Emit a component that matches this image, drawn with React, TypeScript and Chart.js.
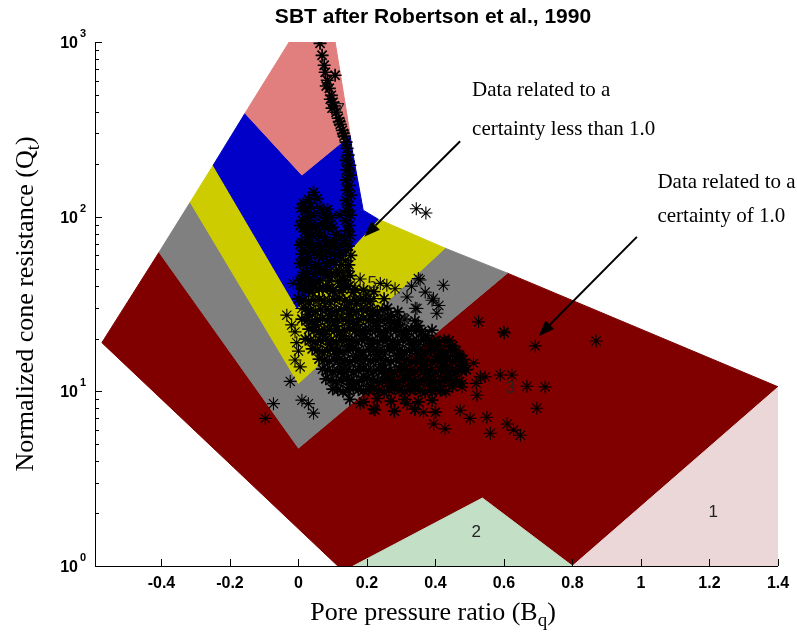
import { useEffect, useRef } from 'react';
import { Chart, registerables } from 'chart.js';
Chart.register(...registerables);

type P = [number, number];

// axis ranges
const xRange: P = [-0.594, 1.4];
const qRange: P = [1, 1000];

// tick values / labels
const xTickValues = [-0.4, -0.2, 0, 0.2, 0.4, 0.6, 0.8, 1, 1.2, 1.4];
const xTickLabels = ['-0.4', '-0.2', '0', '0.2', '0.4', '0.6', '0.8', '1', '1.2', '1.4'];
const yMajorTicks = [1, 10, 100, 1000];
const yTickExponents = ['0', '1', '2', '3'];
const yMinorTicks = [2, 3, 4, 5, 6, 7, 8, 9, 20, 30, 40, 50, 60, 70, 80, 90, 200, 300, 400, 500, 600, 700, 800, 900];

// SBT zones (Bq, Qt)
const zone7: P[] = [[-0.027, 1000], [0.107, 1000], [0.122, 662], [0.136, 446], [0.151, 292], [0.010, 173], [-0.156, 391]];
const zone6: P[] = [[-0.156, 391], [0.010, 173], [0.151, 292], [0.157, 240], [0.189, 109], [0.233, 96.7], [-0.004, 29.9], [-0.249, 197]];
const zone5: P[] = [[-0.316, 121], [-0.249, 197], [-0.004, 29.9], [0.233, 96.7], [0.428, 66.0], [0.0, 11.1]];
const zone4: P[] = [[-0.407, 62.6], [-0.316, 121], [0.0, 11.1], [0.428, 66.0], [0.610, 47.5], [0.0, 4.73]];
const zone3: P[] = [[-0.574, 19.0], [-0.407, 62.6], [0.0, 4.73], [0.610, 47.5], [1.401, 10.6], [0.80, 1], [0.537, 2.45], [0.16, 1], [0.122, 0.97]];
const zone2: P[] = [[0.16, 1], [0.537, 2.45], [0.80, 1]];
const zone1: P[] = [[0.80, 1], [1.401, 10.6], [1.401, 1]];
const zones: P[][] = [zone3, zone1, zone2, zone4, zone5, zone6, zone7];
const zoneColors = ['#800000', '#ebd7d7', '#c3dfc6', '#808080', '#cccc00', '#0000c8', '#e17f7f'];

// zone number labels
const zoneLabelText = ['1', '2', '3', '4', '5', '7'];
const zoneLabelPos: P[] = [[1.211, 2.04], [0.519, 1.56], [0.618, 10.4], [0.312, 25.6], [0.215, 41.6], [0.122, 406]];

// CPT data (Bq, Qt)
const streakPts: P[] = [
  [0.063, 983], [0.069, 839], [0.075, 736], [0.078, 671], [0.107, 645], [0.084, 604], [0.090, 543], [0.096, 495],
  [0.101, 452], [0.098, 418], [0.110, 396], [0.116, 366], [0.122, 338], [0.128, 312], [0.133, 289], [0.139, 267],
  [0.142, 246], [0.081, 560], [0.093, 470], [0.105, 430], [0.119, 350], [0.131, 300],
];
const columnPts: P[] = [
  [0.145, 225], [0.138, 210], [0.150, 197], [0.141, 185], [0.152, 173], [0.139, 162], [0.148, 151], [0.142, 142],
  [0.153, 133], [0.138, 124], [0.147, 116], [0.141, 108], [0.152, 102], [0.137, 95], [0.148, 89], [0.143, 83],
  [0.151, 78], [0.136, 73], [0.146, 68], [0.140, 64], [0.153, 60], [0.137, 56], [0.147, 53], [0.142, 49],
  [0.151, 46], [0.136, 43], [0.146, 40],
];
const wPts: P[] = [
  [0.015, 119], [0.044, 138], [0.020, 108], [0.030, 100], [0.012, 95], [0.035, 88], [0.018, 82], [0.028, 76],
  [0.010, 71], [0.040, 67], [0.022, 63], [0.032, 58], [0.014, 54], [0.038, 51], [0.025, 47], [0.010, 44],
  [0.035, 41], [0.020, 38], [0.073, 104], [0.062, 112], [0.080, 98], [0.068, 92], [0.085, 86], [0.060, 81],
  [0.077, 76], [0.090, 71], [0.065, 67], [0.082, 63], [0.070, 59], [0.092, 55], [0.058, 52], [0.076, 49],
  [0.088, 46], [0.064, 43], [0.080, 40], [0.100, 38], [0.110, 48], [0.115, 60], [0.105, 70],
];
const wPts2: P[] = [
  [0.030, 125], [0.055, 127], [0.008, 112], [0.035, 114], [0.085, 110], [0.045, 101], [0.095, 99], [0.120, 102],
  [0.005, 89], [0.025, 87], [0.050, 88], [0.075, 89], [0.100, 87], [0.040, 78], [0.060, 77], [0.110, 79], [0.125, 77],
  [0.005, 69], [0.030, 70], [0.055, 68], [0.080, 69], [0.100, 70], [0.125, 68],
  [0.010, 61], [0.045, 62], [0.060, 60], [0.095, 61], [0.120, 62],
  [0.005, 54], [0.025, 55], [0.050, 53], [0.080, 54], [0.105, 55], [0.125, 53],
  [0.015, 48], [0.045, 47], [0.065, 48], [0.095, 47], [0.120, 48],
  [0.005, 43], [0.030, 43.5], [0.050, 42.5], [0.090, 43], [0.115, 42.5], [0.130, 43.5],
  [0.010, 39], [0.040, 39.5], [0.060, 38.5], [0.085, 39], [0.125, 39.5], [0.165, 38.5],
];
const leftPts: P[] = [
  [-0.015, 41.5], [0.010, 29.8], [-0.034, 27.3], [-0.010, 21.9], [-0.024, 11.4], [-0.073, 8.5], [-0.097, 7.0],
  [0.010, 8.9], [0.044, 7.5], [0.029, 8.5], [-0.010, 15.1], [0.005, 13.8], [-0.020, 24], [-0.005, 19], [0.000, 17],
];
const midPts: P[] = [
  [0.258, 40.5], [0.282, 38.7], [0.239, 41.5], [0.170, 31.8], [0.131, 46.2], [0.151, 40.5], [0.20, 36], [0.22, 34],
  [0.18, 44], [0.12, 37], [0.350, 44.2], [0.423, 40.5], [0.390, 33.2], [0.404, 28.0], [0.346, 29.8], [0.317, 34.7],
  [0.37, 37], [0.33, 40], [0.41, 31], [0.344, 111], [0.372, 105],
];
const corePts: P[] = [
  [0.01, 38.5], [0.04, 37.0], [0.07, 38.8], [0.10, 37.4], [0.13, 38.2], [0.16, 36.9], [0.19, 38.0], [0.22, 37.2],
  [0.00, 33.8], [0.03, 32.9], [0.06, 33.6], [0.09, 33.0], [0.12, 34.0], [0.15, 32.7], [0.18, 33.5], [0.21, 32.8], [0.25, 33.9],
  [0.02, 29.6], [0.05, 28.8], [0.08, 29.4], [0.11, 28.9], [0.14, 29.8], [0.17, 28.6], [0.20, 29.3], [0.23, 28.7], [0.26, 29.9], [0.29, 28.5],
  [0.03, 27.5], [0.09, 27.1], [0.15, 27.6], [0.21, 27.0], [0.27, 27.4],
  [0.01, 25.9], [0.04, 25.2], [0.07, 26.0], [0.10, 25.4], [0.13, 25.8], [0.16, 25.1], [0.19, 26.1], [0.22, 25.3], [0.25, 25.7], [0.28, 25.0], [0.31, 25.9], [0.34, 25.3],
  [0.05, 24.1], [0.11, 23.7], [0.17, 24.2], [0.23, 23.6], [0.29, 24.0], [0.35, 23.8],
  [0.03, 22.7], [0.06, 22.1], [0.09, 22.6], [0.12, 22.0], [0.15, 22.8], [0.18, 22.2], [0.21, 22.5], [0.24, 21.9], [0.27, 22.7], [0.30, 22.1], [0.33, 22.6], [0.36, 22.0], [0.39, 22.4],
  [0.07, 21.2], [0.13, 20.8], [0.19, 21.3], [0.25, 20.7], [0.31, 21.1], [0.37, 20.9],
  [0.02, 19.9], [0.05, 19.3], [0.08, 19.8], [0.11, 19.2], [0.14, 19.7], [0.17, 19.4], [0.20, 20.0], [0.23, 19.3], [0.26, 19.8], [0.29, 19.2], [0.32, 19.9], [0.35, 19.4], [0.38, 19.7], [0.41, 19.1], [0.44, 19.5],
  [0.09, 18.6], [0.15, 18.2], [0.21, 18.7], [0.27, 18.1], [0.33, 18.5], [0.39, 18.3], [0.45, 18.2],
  [0.04, 17.5], [0.07, 16.9], [0.10, 17.4], [0.13, 17.0], [0.16, 17.6], [0.19, 16.8], [0.22, 17.3], [0.25, 17.0], [0.28, 17.5], [0.31, 16.9], [0.34, 17.4], [0.37, 17.0], [0.40, 17.3], [0.43, 16.8], [0.46, 17.1],
  [0.11, 16.3], [0.17, 15.9], [0.23, 16.2], [0.29, 16.0], [0.35, 16.4], [0.41, 15.9], [0.47, 16.1],
  [0.06, 15.3], [0.09, 14.9], [0.12, 15.4], [0.15, 14.8], [0.18, 15.2], [0.21, 15.0], [0.24, 15.4], [0.27, 14.8], [0.30, 15.3], [0.33, 14.9], [0.36, 15.2], [0.39, 14.8], [0.42, 15.1], [0.45, 14.9], [0.48, 15.2],
  [0.12, 14.3], [0.18, 13.9], [0.24, 14.2], [0.30, 14.0], [0.36, 14.3], [0.42, 13.9], [0.48, 14.1],
  [0.07, 13.4], [0.10, 13.0], [0.13, 13.3], [0.16, 12.9], [0.19, 13.4], [0.22, 13.1], [0.25, 13.5], [0.28, 12.9], [0.31, 13.3], [0.34, 13.0], [0.37, 13.4], [0.40, 12.9], [0.43, 13.2], [0.46, 13.0], [0.49, 13.3],
  [0.13, 12.5], [0.19, 12.2], [0.25, 12.6], [0.31, 12.3], [0.37, 12.5], [0.43, 12.2],
  [0.08, 11.8], [0.11, 11.4], [0.14, 11.7], [0.17, 11.3], [0.20, 11.8], [0.23, 11.5], [0.26, 11.7], [0.29, 11.3], [0.32, 11.8], [0.35, 11.4], [0.38, 11.6], [0.41, 11.3], [0.44, 11.7], [0.47, 11.4],
  [0.15, 11.0], [0.21, 10.7], [0.27, 11.1], [0.33, 10.8], [0.39, 11.0], [0.45, 10.7],
  [0.10, 10.3], [0.13, 10.0], [0.16, 10.4], [0.19, 10.1], [0.22, 10.3], [0.25, 9.9], [0.28, 10.4], [0.31, 10.0], [0.34, 10.3], [0.37, 9.9], [0.40, 10.2], [0.43, 10.0],
  [0.15, 9.0], [0.19, 8.7], [0.23, 9.1], [0.27, 8.8], [0.31, 9.0], [0.35, 8.7], [0.39, 8.9],
  [0.22, 7.9], [0.28, 7.7], [0.34, 7.9], [0.40, 7.6],
];
const corePts2: P[] = [
  [0.015, 33.2], [0.045, 33.4], [0.075, 33.1], [0.105, 33.5], [0.135, 33.0], [0.165, 33.4], [0.195, 33.2],
  [0.035, 29.1], [0.065, 29.5], [0.095, 29.0], [0.125, 29.4], [0.155, 29.1], [0.185, 29.6], [0.215, 29.0], [0.245, 29.3],
  [0.025, 25.5], [0.055, 25.8], [0.085, 25.4], [0.115, 25.7], [0.145, 25.3], [0.175, 25.9], [0.205, 25.5], [0.235, 25.8], [0.265, 25.4], [0.295, 25.6],
  [0.045, 22.3], [0.075, 22.6], [0.105, 22.2], [0.135, 22.5], [0.165, 22.1], [0.195, 22.6], [0.225, 22.3], [0.255, 22.5], [0.285, 22.2], [0.315, 22.4], [0.345, 22.3],
  [0.035, 19.6], [0.065, 19.5], [0.095, 19.7], [0.125, 19.4], [0.155, 19.6], [0.185, 19.8], [0.215, 19.5], [0.245, 19.6], [0.275, 19.4], [0.305, 19.7], [0.335, 19.5], [0.365, 19.6], [0.395, 19.4], [0.425, 19.6],
  [0.055, 17.2], [0.085, 17.1], [0.115, 17.3], [0.145, 17.1], [0.175, 17.2], [0.205, 17.4], [0.235, 17.1], [0.265, 17.3], [0.295, 17.2], [0.325, 17.1], [0.355, 17.3], [0.385, 17.2], [0.415, 17.0], [0.445, 17.2],
  [0.075, 15.1], [0.105, 15.2], [0.135, 15.0], [0.165, 15.1], [0.195, 15.3], [0.225, 15.1], [0.255, 15.0], [0.285, 15.2], [0.315, 15.1], [0.345, 15.0], [0.375, 15.2], [0.405, 15.0], [0.435, 15.1], [0.465, 15.0],
  [0.085, 13.2], [0.115, 13.1], [0.145, 13.3], [0.175, 13.1], [0.205, 13.2], [0.235, 13.3], [0.265, 13.1], [0.295, 13.2], [0.325, 13.1], [0.355, 13.3], [0.385, 13.1], [0.415, 13.2], [0.445, 13.1], [0.475, 13.2],
  [0.095, 11.6], [0.125, 11.5], [0.155, 11.6], [0.185, 11.5], [0.215, 11.7], [0.245, 11.5], [0.275, 11.6], [0.305, 11.5], [0.335, 11.6], [0.365, 11.5], [0.395, 11.6], [0.425, 11.5], [0.455, 11.6],
  [0.115, 10.2], [0.145, 10.1], [0.175, 10.2], [0.205, 10.2], [0.235, 10.1], [0.265, 10.2], [0.295, 10.1], [0.325, 10.2], [0.355, 10.1], [0.385, 10.2], [0.415, 10.1],
];
const rightPts: P[] = [
  [0.691, 18.2], [0.869, 19.4], [0.667, 10.7], [0.720, 10.6], [0.526, 25.0], [0.601, 21.6], [0.696, 8.0], [0.609, 6.5],
  [0.560, 5.75], [0.628, 6.0], [0.648, 5.6], [0.589, 12.4], [0.623, 12.4], [0.545, 12.1], [0.519, 11.1], [0.477, 11.1],
  [0.550, 7.1], [0.501, 7.0], [0.472, 7.8], [0.428, 6.1], [0.395, 6.5], [0.365, 7.6], [0.317, 8.5], [0.224, 7.8],
  [0.180, 8.5], [0.477, 10.6], [0.521, 9.5], [0.531, 12.1], [0.477, 13.5], [0.472, 15.7], [0.511, 14.5], [0.599, 21.9],
  [0.355, 43.4], [0.394, 34.1], [0.341, 29.9],
];

// annotations (Bq, Qt)
const annotationLines = [
  ['Data related to a', 'certainty less than 1.0'],
  ['Data related to a', 'certainty of 1.0'],
];
const annotationAnchors: P[][] = [
  [[0.507, 490], [0.507, 293]],
  [[1.048, 145], [1.048, 93]],
];
const arrowStarts: P[] = [[0.472, 270], [0.988, 76.6]];
const arrowTips: P[] = [[0.192, 76.8], [0.701, 20.7]];

const titleText = 'SBT after Robertson et al., 1990';

const SANS = '"Liberation Sans", Arial, sans-serif';
const SERIF = '"Liberation Serif", "Times New Roman", serif';

const sbtPlugin = {
  id: 'sbt',
  beforeDatasetsDraw(chart: any) {
    const { ctx, chartArea, scales } = chart;
    const X = (v: number) => scales.x.getPixelForValue(v);
    const Y = (v: number) => scales.y.getPixelForValue(v);
    ctx.save();
    ctx.beginPath();
    ctx.rect(chartArea.left, chartArea.top, chartArea.right - chartArea.left, chartArea.bottom - chartArea.top);
    ctx.clip();
    zones.forEach((poly, i) => {
      ctx.beginPath();
      poly.forEach((p, j) => {
        const px = X(p[0]);
        const py = Y(p[1]);
        if (j === 0) ctx.moveTo(px, py);
        else ctx.lineTo(px, py);
      });
      ctx.closePath();
      ctx.fillStyle = zoneColors[i];
      ctx.strokeStyle = zoneColors[i];
      ctx.lineWidth = 1;
      ctx.fill();
      ctx.stroke();
    });
    ctx.restore();
  },
  afterDatasetsDraw(chart: any) {
    const { ctx, chartArea, scales } = chart;
    const X = (v: number) => scales.x.getPixelForValue(v);
    const Y = (v: number) => scales.y.getPixelForValue(v);
    ctx.save();
    // zone labels
    ctx.font = `17px ${SANS}`;
    ctx.fillStyle = '#222';
    ctx.textAlign = 'center';
    ctx.textBaseline = 'middle';
    zoneLabelText.forEach((t, i) => {
      ctx.fillText(t, X(zoneLabelPos[i][0]), Y(zoneLabelPos[i][1]));
    });

    // axes lines
    ctx.strokeStyle = '#000';
    ctx.lineWidth = 1;
    ctx.beginPath();
    ctx.moveTo(chartArea.left + 0.5, chartArea.top);
    ctx.lineTo(chartArea.left + 0.5, chartArea.bottom + 0.5);
    ctx.lineTo(chartArea.right, chartArea.bottom + 0.5);
    ctx.stroke();
    // y ticks (inward)
    ctx.beginPath();
    yMajorTicks.forEach((v) => {
      const py = Math.round(Y(v)) + 0.5;
      ctx.moveTo(chartArea.left, py);
      ctx.lineTo(chartArea.left + 7, py);
    });
    yMinorTicks.forEach((v) => {
      const py = Math.round(Y(v)) + 0.5;
      ctx.moveTo(chartArea.left, py);
      ctx.lineTo(chartArea.left + 4, py);
    });
    // x ticks (inward)
    xTickValues.forEach((v) => {
      const px = Math.round(X(v)) + 0.5;
      ctx.moveTo(px, chartArea.bottom);
      ctx.lineTo(px, chartArea.bottom - 7);
    });
    ctx.stroke();

    // x tick labels
    ctx.fillStyle = '#000';
    ctx.font = `bold 16px ${SANS}`;
    ctx.textAlign = 'center';
    ctx.textBaseline = 'alphabetic';
    xTickValues.forEach((v, i) => {
      ctx.fillText(xTickLabels[i], X(v), chartArea.bottom + 22);
    });
    // y tick labels 10^n
    yMajorTicks.forEach((v, i) => {
      const py = Y(v);
      ctx.font = `bold 16px ${SANS}`;
      ctx.textAlign = 'right';
      ctx.fillText('10', chartArea.left - 17, py + 6);
      ctx.font = `bold 11px ${SANS}`;
      ctx.textAlign = 'left';
      ctx.fillText(yTickExponents[i], chartArea.left - 15, py - 5);
    });

    // title
    ctx.font = `bold 21px ${SANS}`;
    ctx.textAlign = 'center';
    ctx.fillText(titleText, 433, 23);

    // axis titles with subscript
    const drawSubTitle = (main: string, sub: string, cx: number, cy: number) => {
      ctx.font = `26px ${SERIF}`;
      const w1 = ctx.measureText(main).width;
      const w3 = ctx.measureText(')').width;
      ctx.font = `19px ${SERIF}`;
      const w2 = ctx.measureText(sub).width;
      const total = w1 + w2 + w3;
      const x0 = cx - total / 2;
      ctx.textAlign = 'left';
      ctx.font = `26px ${SERIF}`;
      ctx.fillText(main, x0, cy);
      ctx.font = `19px ${SERIF}`;
      ctx.fillText(sub, x0 + w1, cy + 6);
      ctx.font = `26px ${SERIF}`;
      ctx.fillText(')', x0 + w1 + w2, cy);
    };
    drawSubTitle('Pore pressure ratio (B', 'q', 433, 620);
    ctx.save();
    ctx.translate(33, 304);
    ctx.rotate(-Math.PI / 2);
    drawSubTitle('Normalized cone resistance (Q', 't', 0, 0);
    ctx.restore();

    // annotations
    ctx.font = `21px ${SERIF}`;
    ctx.textAlign = 'left';
    annotationLines.forEach((lines, i) => {
      lines.forEach((ln, j) => {
        ctx.fillText(ln, X(annotationAnchors[i][j][0]), Y(annotationAnchors[i][j][1]));
      });
    });
    // arrows
    arrowStarts.forEach((s, i) => {
      const x1 = X(s[0]);
      const y1 = Y(s[1]);
      const x2 = X(arrowTips[i][0]);
      const y2 = Y(arrowTips[i][1]);
      const ang = Math.atan2(y2 - y1, x2 - x1);
      const hl = 16;
      const hw = 6;
      const bx = x2 - hl * Math.cos(ang);
      const by = y2 - hl * Math.sin(ang);
      ctx.strokeStyle = '#000';
      ctx.lineWidth = 2;
      ctx.beginPath();
      ctx.moveTo(x1, y1);
      ctx.lineTo(bx, by);
      ctx.stroke();
      ctx.beginPath();
      ctx.moveTo(x2, y2);
      ctx.lineTo(bx + hw * Math.sin(ang), by - hw * Math.cos(ang));
      ctx.lineTo(bx - hw * Math.sin(ang), by + hw * Math.cos(ang));
      ctx.closePath();
      ctx.fillStyle = '#000';
      ctx.fill();
    });
    ctx.restore();
  },
};

export default function App() {
  const ref = useRef<HTMLCanvasElement | null>(null);
  useEffect(() => {
    if (!ref.current) return;
    const dense = [...streakPts, ...columnPts, ...wPts, ...wPts2, ...corePts, ...corePts2];
    const sparse = [...leftPts, ...midPts, ...rightPts];
    const chart = new Chart(ref.current, {
      type: 'scatter',
      data: {
        datasets: [
          {
            data: sparse.map(([x, y]) => ({ x, y })),
            pointStyle: 'star',
            radius: 6.5,
            borderColor: '#000',
            backgroundColor: '#000',
            borderWidth: 1.1,
          },
          {
            data: dense.map(([x, y]) => ({ x, y })),
            pointStyle: 'star',
            radius: 6.5,
            borderColor: '#000',
            backgroundColor: '#000',
            borderWidth: 1.7,
          },
        ],
      },
      options: {
        animation: false,
        responsive: true,
        maintainAspectRatio: false,
        layout: { padding: { left: 95, top: 42, right: 19, bottom: 69 } },
        plugins: { legend: { display: false }, tooltip: { enabled: false } },
        scales: {
          x: { type: 'linear', min: xRange[0], max: xRange[1], display: false },
          y: { type: 'logarithmic', min: qRange[0], max: qRange[1], display: false },
        },
      },
      plugins: [sbtPlugin],
    });
    return () => chart.destroy();
  }, []);
  return (
    <div style={{ position: 'fixed', left: 0, top: 0, width: 797, height: 635, background: '#fff' }}>
      <canvas ref={ref} />
    </div>
  );
}
